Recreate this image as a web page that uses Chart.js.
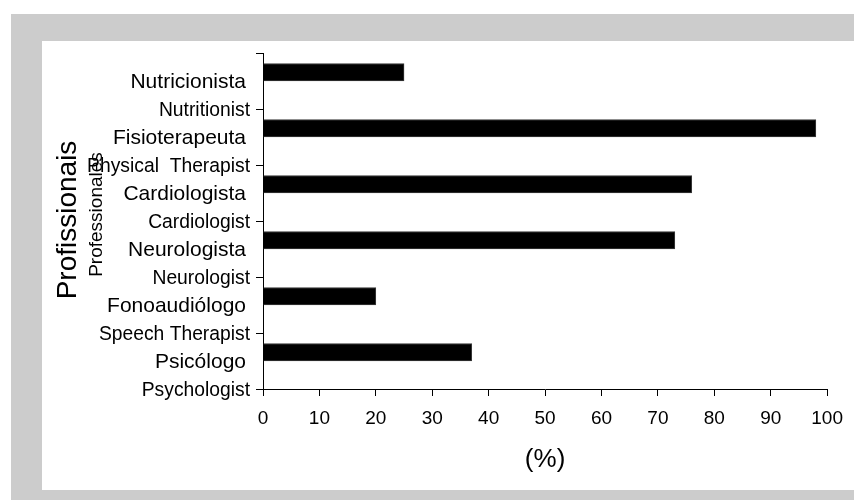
<!DOCTYPE html>
<html>
<head>
<meta charset="utf-8">
<script src="https://cdn.jsdelivr.net/npm/chart.js@4.4.1/dist/chart.umd.min.js"></script>
<style>
  html, body { margin: 0; padding: 0; background: #ffffff; width: 854px; height: 500px; overflow: hidden; }
  #frame { position: absolute; left: 11px; top: 14px; width: 843px; height: 486px; background: #cccccc; }
  #panel { position: absolute; left: 42px; top: 41px; width: 812px; height: 449px; background: #ffffff; }
  canvas { display: block; }
</style>
</head>
<body>
<div id="frame"></div>
<div id="panel"><canvas id="chart" width="812" height="449"></canvas></div>
<script>
// Professions (Portuguese names with English translations underneath)
const categoriesPt = ['Nutricionista', 'Fisioterapeuta', 'Cardiologista', 'Neurologista', 'Fonoaudiólogo', 'Psicólogo'];
const categoriesEn = ['Nutritionist', 'Physical  Therapist', 'Cardiologist', 'Neurologist', 'Speech Therapist', 'Psychologist'];
// Share of respondents per profession (%)
const percentValues = [25, 98, 76, 73, 20, 37];
// Empty companion series: keeps each bar in the upper half of its row
const emptySlot = [null, null, null, null, null, null];
const xTickValues = [0, 10, 20, 30, 40, 50, 60, 70, 80, 90, 100];

const FONT = '"Liberation Sans", Arial, Helvetica, sans-serif';

const labelPlugin = {
  id: 'twoLineLabels',
  afterDraw(chart) {
    const ctx = chart.ctx;
    const y = chart.scales.y;
    const half = (y.bottom - y.top) / categoriesPt.length / 2;
    ctx.save();
    ctx.fillStyle = '#000';
    ctx.textAlign = 'right';
    ctx.textBaseline = 'alphabetic';
    categoriesPt.forEach((name, i) => {
      const c = y.getPixelForValue(i);
      ctx.font = '21px ' + FONT;
      ctx.fillText(name, y.right - 17, c + 7.4);
      ctx.font = '19.3px ' + FONT;
      ctx.fillText(categoriesEn[i], y.right - 13, c + half + 6.9);
    });
    ctx.textAlign = 'center';
    ctx.save();
    ctx.translate(34, 179);
    ctx.rotate(-Math.PI / 2);
    ctx.font = '28px ' + FONT;
    ctx.fillText('Profissionais', 0, 0);
    ctx.restore();
    ctx.save();
    ctx.translate(60, 173.5);
    ctx.rotate(-Math.PI / 2);
    ctx.font = '19px ' + FONT;
    ctx.fillText('Professionales', 0, 0);
    ctx.restore();
    ctx.restore();
  }
};

new Chart(document.getElementById('chart'), {
  type: 'bar',
  data: {
    labels: categoriesPt,
    datasets: [
      {
        data: percentValues,
        backgroundColor: '#000000',
        borderColor: '#3a3a3a',
        borderWidth: 1,
        borderSkipped: 'start',
        barThickness: 17.5
      },
      {
        data: emptySlot,
        backgroundColor: '#000000',
        barThickness: 17.5
      }
    ]
  },
  options: {
    indexAxis: 'y',
    responsive: false,
    animation: false,
    layout: { padding: { top: 12, right: 24, bottom: 0, left: 0 } },
    plugins: { legend: { display: false }, tooltip: { enabled: false } },
    scales: {
      x: {
        type: 'linear',
        min: 0,
        max: 100,
        afterBuildTicks(scale) { scale.ticks = xTickValues.map(v => ({ value: v })); },
        afterFit(scale) { scale.height = 101; },
        grid: { drawOnChartArea: false, drawTicks: true, tickLength: 7, color: '#000' },
        border: { display: true, color: '#000', width: 1 },
        ticks: { color: '#000', font: { family: FONT, size: 19 }, padding: 11, maxRotation: 0 },
        title: { display: true, text: '(%)', color: '#000', font: { family: FONT, size: 26 }, padding: { top: 0, bottom: 15 } }
      },
      y: {
        type: 'category',
        afterFit(scale) { scale.width = 221; },
        grid: { offset: true, drawOnChartArea: false, drawTicks: true, tickLength: 7, color: '#000' },
        border: { display: true, color: '#000', width: 1 },
        ticks: { display: false }
      }
    }
  },
  plugins: [labelPlugin]
});
</script>
</body>
</html>
